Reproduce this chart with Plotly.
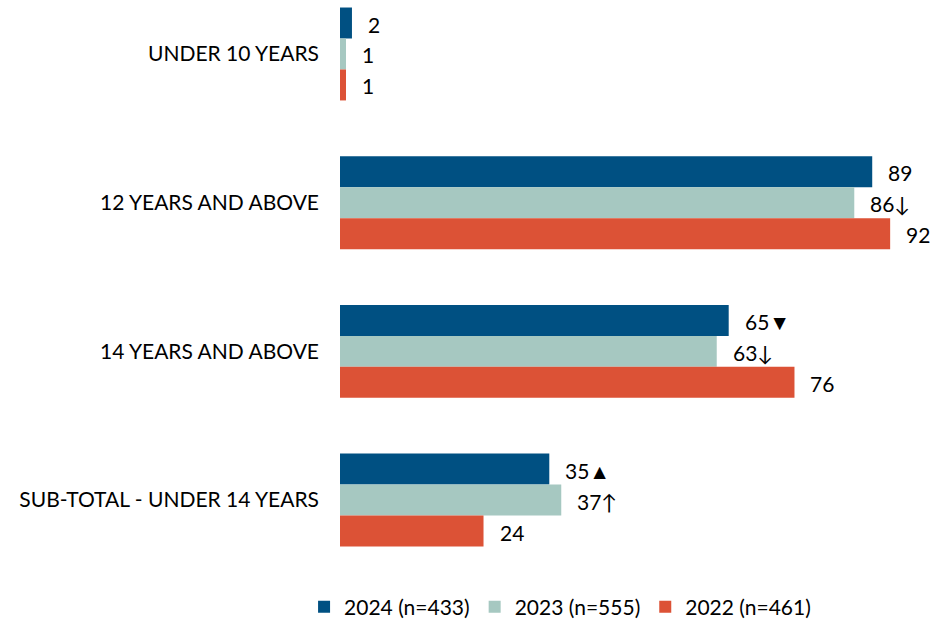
import plotly.graph_objects as go

# Age groups and survey waves
categories = ["UNDER 10 YEARS", "12 YEARS AND ABOVE", "14 YEARS AND ABOVE", "SUB-TOTAL - UNDER 14 YEARS"]
series_names = ["2024 (n=433)", "2023 (n=555)", "2022 (n=461)"]
values_2024 = [2, 89, 65, 35]
values_2023 = [1, 86, 63, 37]
values_2022 = [1, 92, 76, 24]
# significance markers appended to the value labels
marks_2024 = ["", "", "▼", "▲"]
marks_2023 = ["", "↓", "↓", "↑"]
marks_2022 = ["", "", "", ""]

colors = ["#005082", "#A6C8C1", "#DC5236"]
font_family = "Lato, 'Open Sans', sans-serif"

all_values = [values_2024, values_2023, values_2022]
all_marks = [marks_2024, marks_2023, marks_2022]

fig = go.Figure()
for name, vals, col in zip(series_names, all_values, colors):
    fig.add_trace(go.Bar(
        name=name,
        y=list(range(len(categories))),
        x=vals,
        orientation="h",
        marker=dict(color=col, line=dict(width=0)),
    ))

# value labels placed just past each bar end
bar_w = 0.625 / 3
annotations = []
for k, (vals, marks) in enumerate(zip(all_values, all_marks)):
    for i, (v, m) in enumerate(zip(vals, marks)):
        annotations.append(dict(
            x=v, y=i + (k - 1) * bar_w,
            xref="x", yref="y",
            text=f"{v}{m}",
            showarrow=False,
            xanchor="left", yanchor="middle",
            xshift=14, yshift=-1,
            font=dict(family=font_family, size=21, color="#000000"),
        ))

fig.update_layout(
    barmode="group",
    bargap=0.375,
    bargroupgap=0,
    width=938, height=621,
    margin=dict(l=340, r=0, t=0, b=46, autoexpand=False),
    paper_bgcolor="white",
    plot_bgcolor="white",
    showlegend=True,
    legend=dict(
        orientation="h",
        x=0.368, xanchor="center",
        y=-0.056, yanchor="middle",
        font=dict(family=font_family, size=21, color="#000000"),
        itemwidth=30,
        traceorder="normal",
    ),
    annotations=annotations,
    font=dict(family=font_family, color="#000000"),
)
fig.update_xaxes(range=[0, 100], visible=False, fixedrange=True)
fig.update_yaxes(
    tickmode="array",
    tickvals=list(range(len(categories))),
    ticktext=categories,
    range=[3.504, -0.363],
    showgrid=False, zeroline=False, showline=False,
    ticks="", ticklabelstandoff=20,
    tickfont=dict(family=font_family, size=21, color="#000000"),
    fixedrange=True,
)

fig.write_html("out.html")
